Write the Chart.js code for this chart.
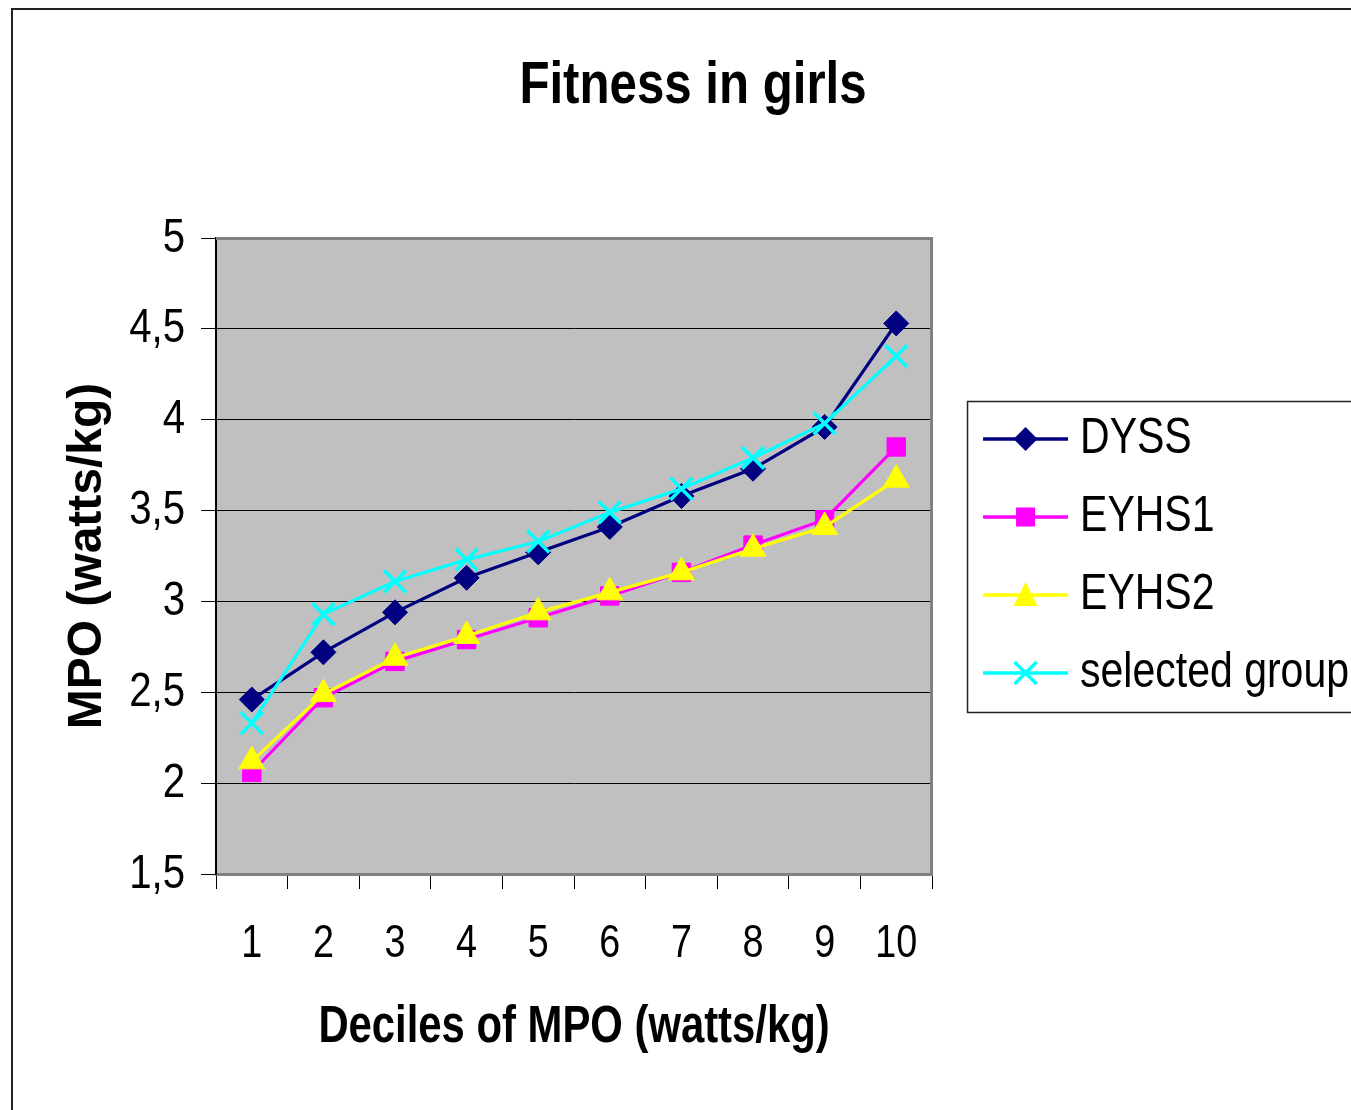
<!DOCTYPE html>
<html><head><meta charset="utf-8">
<script src="https://cdn.jsdelivr.net/npm/chart.js@4.4.1/dist/chart.umd.min.js"></script>
<style>
html,body{margin:0;padding:0;background:#fff;overflow:hidden;width:1351px;height:1110px}
#frame{position:absolute;left:11px;top:8px;width:1500px;height:1200px;border-left:2px solid #222;border-top:2px solid #222;box-sizing:border-box}
#wrap{position:absolute;left:0;top:0;height:1110px}
canvas{display:block}
</style></head><body>
<div id="frame"></div>
<div id="wrap"><canvas id="c"></canvas></div>
<script>
// ---- data ----
const categories = ['1','2','3','4','5','6','7','8','9','10'];
const dyss     = [2.46, 2.72, 2.94, 3.13, 3.27, 3.41, 3.58, 3.73, 3.96, 4.53];
const eyhs1    = [2.06, 2.47, 2.67, 2.79, 2.91, 3.03, 3.16, 3.31, 3.45, 3.85];
const eyhs2    = [2.12, 2.49, 2.69, 2.81, 2.94, 3.05, 3.16, 3.29, 3.41, 3.67];
const selected = [2.33, 2.93, 3.11, 3.23, 3.33, 3.49, 3.62, 3.79, 3.98, 4.35];
const seriesNames = ['DYSS', 'EYHS1', 'EYHS2', 'selected group'];
const yTickValues = [1.5, 2, 2.5, 3, 3.5, 4, 4.5, 5];
const yTickLabels = ['1,5', '2', '2,5', '3', '3,5', '4', '4,5', '5'];
const titleText = 'Fitness in girls';
const xTitle = 'Deciles of MPO (watts/kg)';
const yTitle = 'MPO (watts/kg)';

// ---- style ----
const NARROW = '"Liberation Sans Narrow", "Arial Narrow", "Liberation Sans", Arial, sans-serif';
const WIDE = '"Liberation Sans", Arial, sans-serif';
const SQ = 0.82; // horizontal condensing for the narrow face (not installed)
const colors = ['#000080', '#FF00FF', '#FFFF00', '#00FFFF'];
const styles = ['rectRot', 'rect', 'triangle', 'crossRot'];
const radii = [12.5, 13, 15, 15.5];
const LEG_FONT = 50, LEG_PAD = 28, LEG_BOXW = 95;
const AREA_RIGHT = 932, AREA_LEFT = 216, AREA_BOTTOM = 874, H = 1110, TITLE_CX = 693, RPAD = 40;

function glyph(i) {
  const c = document.createElement('canvas');
  c.width = 121; c.height = 34;
  const g = c.getContext('2d');
  const col = colors[i];
  g.strokeStyle = col; g.fillStyle = col; g.lineWidth = 3.5;
  g.beginPath(); g.moveTo(36, 17); g.lineTo(121, 17); g.stroke();
  const cx = 78.5, cy = 17;
  g.beginPath();
  if (styles[i] === 'rectRot') {
    g.moveTo(cx, cy - 12); g.lineTo(cx + 12, cy); g.lineTo(cx, cy + 12); g.lineTo(cx - 12, cy); g.closePath(); g.fill();
  } else if (styles[i] === 'rect') {
    g.fillRect(cx - 9.5, cy - 9.5, 19, 19);
  } else if (styles[i] === 'triangle') {
    g.moveTo(cx, cy - 13); g.lineTo(cx + 12, cy + 11); g.lineTo(cx - 12, cy + 11); g.closePath(); g.fill();
  } else {
    g.lineWidth = 3.5;
    g.moveTo(cx - 11, cy - 11); g.lineTo(cx + 11, cy + 11);
    g.moveTo(cx + 11, cy - 11); g.lineTo(cx - 11, cy + 11); g.stroke();
  }
  return c;
}
const glyphs = [0,1,2,3].map(glyph);

const plotDeco = {
  id: 'plotDeco',
  beforeDraw(ch) {
    const {ctx, chartArea: a} = ch;
    ctx.save();
    ctx.fillStyle = '#C0C0C0';
    ctx.fillRect(a.left, a.top, a.right - a.left, a.bottom - a.top);
    ctx.restore();
  },
  beforeDatasetsDraw(ch) {
    const {ctx, chartArea: a} = ch;
    ctx.save();
    ctx.strokeStyle = '#808080'; ctx.lineWidth = 3;
    ctx.beginPath();
    ctx.moveTo(a.left, a.top + 0.5); ctx.lineTo(a.right - 0.5, a.top + 0.5); ctx.lineTo(a.right - 0.5, a.bottom);
    ctx.stroke();
    ctx.restore();
  },
  afterDraw(ch) {
    const lg = ch.legend;
    if (!lg || !lg.legendHitBoxes || !lg.legendHitBoxes.length) return;
    const hb = lg.legendHitBoxes;
    const top = hb[0].top - 13;
    const bot = hb[hb.length - 1].top + hb[hb.length - 1].height + 14;
    const left = lg.left + 35;
    const ctx = ch.ctx;
    ctx.save();
    ctx.strokeStyle = '#222'; ctx.lineWidth = 1.5;
    ctx.beginPath();
    ctx.moveTo(ch.width + 5, top + 0.5); ctx.lineTo(left + 0.5, top + 0.5); ctx.lineTo(left + 0.5, bot + 0.5); ctx.lineTo(ch.width + 5, bot + 0.5);
    ctx.stroke();
    ctx.restore();
  }
};

function condense(ctx) {
  const P = CanvasRenderingContext2D.prototype;
  const origFill = P.fillText, origMeasure = P.measureText;
  ctx.fillText = function (text, x, y, maxWidth) {
    if (this.font.indexOf('Narrow') >= 0) {
      this.save(); this.translate(x, y); this.scale(SQ, 1);
      if (maxWidth !== undefined) origFill.call(this, text, 0, 0, maxWidth / SQ);
      else origFill.call(this, text, 0, 0);
      this.restore();
    } else if (maxWidth !== undefined) origFill.call(this, text, x, y, maxWidth);
    else origFill.call(this, text, x, y);
  };
  ctx.measureText = function (text) {
    const m = origMeasure.call(this, text);
    if (this.font.indexOf('Narrow') >= 0) {
      return {
        width: m.width * SQ,
        actualBoundingBoxAscent: m.actualBoundingBoxAscent,
        actualBoundingBoxDescent: m.actualBoundingBoxDescent,
        actualBoundingBoxLeft: m.actualBoundingBoxLeft * SQ,
        actualBoundingBoxRight: m.actualBoundingBoxRight * SQ,
        fontBoundingBoxAscent: m.fontBoundingBoxAscent,
        fontBoundingBoxDescent: m.fontBoundingBoxDescent
      };
    }
    return m;
  };
}

let PADL = 28;
let chart = null;

function build(W) {
  const canvas = document.getElementById('c');
  canvas.width = W; canvas.height = H;
  canvas.style.width = W + 'px'; canvas.style.height = H + 'px';
  document.getElementById('wrap').style.width = W + 'px';
  const ctx = canvas.getContext('2d');
  condense(ctx);
  const data = [dyss, eyhs1, eyhs2, selected];
  const datasets = data.map((d, i) => ({
    label: seriesNames[i],
    data: d,
    borderColor: colors[i],
    backgroundColor: colors[i],
    borderWidth: 3.2,
    pointStyle: styles[i],
    pointRadius: radii[i],
    pointHoverRadius: radii[i],
    pointBackgroundColor: colors[i],
    pointBorderColor: colors[i],
    pointBorderWidth: i === 3 ? 3.5 : 1,
    tension: 0,
    order: 4 - i
  }));
  chart = new Chart(ctx, {
    type: 'line',
    data: { labels: categories, datasets },
    options: {
      responsive: false,
      maintainAspectRatio: false,
      animation: false,
      devicePixelRatio: 1,
      events: [],
      layout: { padding: { left: PADL, right: RPAD, top: 0, bottom: 0 } },
      plugins: {
        tooltip: { enabled: false },
        title: {
          display: true, text: titleText, color: '#000',
          font: { family: NARROW, size: 60, weight: 'bold', lineHeight: 1.2 },
          padding: { top: 50, bottom: 116 }
        },
        legend: {
          display: true, position: 'right', align: 'center', fullSize: false, maxWidth: 1000,
          labels: {
            usePointStyle: true, pointStyleWidth: LEG_BOXW, padding: LEG_PAD, color: '#000',
            font: { family: NARROW, size: LEG_FONT, lineHeight: 1.2 },
            sort: (a, b) => a.datasetIndex - b.datasetIndex,
            generateLabels(ch) {
              const items = Chart.defaults.plugins.legend.labels.generateLabels(ch);
              items.forEach((it) => { it.pointStyle = glyphs[it.datasetIndex]; it.fontColor = '#000'; });
              return items;
            }
          }
        }
      },
      scales: {
        x: {
          type: 'category', offset: true,
          afterFit(s) { s.height = H - AREA_BOTTOM; },
          grid: { offset: true, drawOnChartArea: false, drawTicks: true, tickLength: 15, color: '#000', lineWidth: 1 },
          border: { display: true, color: '#808080', width: 3 },
          ticks: { color: '#000', padding: 28, maxRotation: 0, autoSkip: false, font: { family: NARROW, size: 46, lineHeight: 1.2 } },
          title: { display: true, text: xTitle, color: '#000', padding: { top: 0, bottom: 51 },
                   font: { family: NARROW, size: 51, weight: 'bold', lineHeight: 1.2 } }
        },
        y: {
          min: 1.5, max: 5,
          afterFit(s) { s.width = AREA_LEFT - PADL; },
          afterBuildTicks(s) { s.ticks = yTickValues.map(v => ({ value: v })); },
          grid: { drawOnChartArea: true, drawTicks: true, tickLength: 15, color: '#000', lineWidth: 1 },
          border: { display: true, color: '#000', width: 2 },
          ticks: {
            color: '#000', padding: 16,
            font: { family: NARROW, size: 49, lineHeight: 1.2 },
            callback(v) { const k = yTickValues.indexOf(v); return k >= 0 ? yTickLabels[k] : ''; }
          },
          title: { display: true, text: yTitle, color: '#000', padding: { top: 58.8 - PADL, bottom: 0 },
                   font: { family: WIDE, size: 48, weight: 'bold', lineHeight: 1.2 } }
        }
      }
    },
    plugins: [plotDeco]
  });
}

// first estimate of legend width
const mctx = document.createElement('canvas').getContext('2d');
mctx.font = LEG_FONT + 'px ' + NARROW;
const tw = Math.max(...seriesNames.map(s => mctx.measureText(s).width)) * SQ;
let Lw = LEG_PAD + LEG_BOXW + LEG_FONT / 2 + tw + 10;
PADL = Math.round(2 * TITLE_CX - (AREA_RIGHT + Lw));
build(Math.round(AREA_RIGHT + Lw + RPAD));
for (let k = 0; k < 3; k++) {
  const diff = AREA_RIGHT - chart.chartArea.right;
  if (Math.abs(diff) < 0.5 && Math.abs(chart.chartArea.left - AREA_LEFT) < 0.5) break;
  Lw = chart.legend.width;
  PADL = Math.round(2 * TITLE_CX - (AREA_RIGHT + Lw));
  chart.destroy();
  build(Math.round(AREA_RIGHT + Lw + RPAD));
}
</script>
</body></html>
